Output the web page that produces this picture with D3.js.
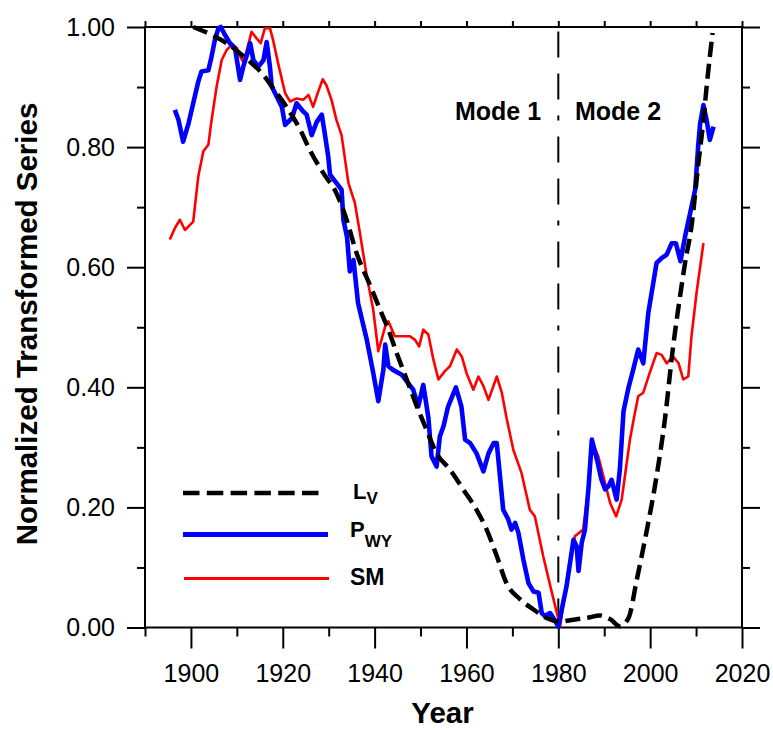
<!DOCTYPE html>
<html>
<head>
<meta charset="utf-8">
<script src="https://cdn.jsdelivr.net/npm/d3@7"></script>
<style>
  html, body { margin: 0; padding: 0; background: #fff; }
  svg { display: block; }
  text { font-family: "Liberation Sans", Arial, sans-serif; fill: #000; }
</style>
</head>
<body>
<svg id="chart" width="773" height="730"></svg>
<script>
// ---------------- DATA ----------------
const lvYears  = [1900.5,1904.5,1907.8,1910.7,1912.9,1915.8,1917.9,1920.8,1923.8,1925.9,1928.8,1931.7,1933.9,1936.1,1939.0,1941.2,1943.0,1944.8,1947.0,1949.2,1951.0,1953.5,1956.4,1959.3,1962.2,1964.4,1966.6,1968.7,1971.7,1974.6,1977.4,1980.4,1983.3,1986.2,1989.1,1991.3,1993.4,1995.3,1997.1,1999.3,2001.4,2003.2,2005.0,2006.5,2007.6,2009.0,2010.5,2011.6,2012.3,2013.0,2013.6];
const lvValues = [1.000,0.987,0.973,0.956,0.942,0.920,0.898,0.867,0.829,0.795,0.757,0.723,0.679,0.623,0.570,0.529,0.496,0.457,0.413,0.368,0.335,0.290,0.263,0.230,0.196,0.163,0.119,0.074,0.047,0.030,0.016,0.010,0.013,0.016,0.020,0.014,0.002,0.016,0.080,0.163,0.252,0.346,0.468,0.551,0.607,0.668,0.773,0.845,0.901,0.951,0.990];

const pwyYears  = [1896.5,1897.3,1898.3,1899.5,1900.5,1901.6,1902.3,1903.8,1904.5,1905.2,1906.0,1906.5,1907.4,1908.5,1909.6,1910.7,1911.4,1912.1,1912.9,1913.6,1914.7,1915.8,1916.5,1917.2,1917.6,1918.7,1919.8,1920.5,1922.0,1923.0,1924.5,1925.2,1926.3,1927.4,1928.5,1929.2,1929.9,1930.3,1931.7,1932.8,1933.2,1934.0,1934.6,1935.4,1936.4,1938.3,1939.7,1940.8,1941.9,1942.3,1943.0,1944.0,1945.9,1947.0,1948.4,1949.5,1950.6,1951.7,1952.4,1953.5,1954.2,1955.0,1956.0,1957.7,1958.9,1959.7,1960.8,1962.2,1963.7,1964.8,1965.9,1966.6,1967.3,1968.0,1969.1,1969.8,1970.6,1971.3,1972.4,1973.5,1974.6,1975.7,1976.4,1977.1,1978.2,1978.9,1980.0,1981.8,1983.3,1984.0,1984.4,1985.1,1985.8,1986.6,1987.3,1988.4,1989.4,1990.2,1990.9,1991.6,1992.7,1993.4,1994.2,1995.3,1996.3,1997.4,1998.5,1999.6,2001.4,2002.5,2003.6,2004.7,2005.6,2006.6,2007.6,2008.7,2009.8,2010.5,2010.9,2011.6,2012.3,2013.0,2013.8];
const pwyValues = [0.862,0.845,0.809,0.840,0.873,0.909,0.926,0.928,0.951,0.978,0.998,1.000,0.987,0.973,0.965,0.912,0.934,0.951,0.973,0.945,0.934,0.945,0.975,0.934,0.901,0.884,0.867,0.837,0.848,0.873,0.859,0.854,0.820,0.842,0.854,0.820,0.784,0.754,0.740,0.729,0.679,0.650,0.593,0.612,0.540,0.479,0.424,0.377,0.429,0.471,0.435,0.429,0.421,0.410,0.396,0.368,0.404,0.350,0.285,0.268,0.318,0.335,0.368,0.400,0.368,0.313,0.307,0.290,0.260,0.290,0.307,0.307,0.252,0.196,0.180,0.163,0.174,0.158,0.113,0.074,0.060,0.058,0.024,0.019,0.024,0.016,0.002,0.069,0.146,0.135,0.094,0.141,0.163,0.235,0.313,0.280,0.246,0.230,0.235,0.246,0.213,0.263,0.360,0.400,0.429,0.463,0.440,0.524,0.607,0.615,0.621,0.640,0.640,0.610,0.651,0.690,0.729,0.806,0.840,0.870,0.845,0.812,0.834];

const smYears  = [1895.4,1896.5,1897.6,1898.7,1900.5,1901.6,1902.7,1903.8,1904.5,1905.6,1906.7,1907.8,1908.9,1910.0,1910.7,1911.4,1912.1,1913.2,1914.3,1915.2,1916.1,1917.2,1917.9,1919.0,1920.5,1921.6,1923.0,1924.5,1925.6,1926.6,1927.7,1928.7,1929.5,1930.6,1931.7,1932.8,1934.3,1935.7,1936.8,1938.3,1939.7,1940.8,1942.3,1943.0,1944.4,1945.5,1947.7,1948.8,1949.7,1950.6,1951.7,1952.8,1953.9,1955.3,1956.4,1957.9,1959.0,1960.0,1961.5,1962.6,1963.7,1964.8,1966.6,1967.7,1968.7,1970.2,1972.0,1973.8,1974.9,1976.7,1978.6,1980.4,1982.2,1983.6,1985.4,1986.5,1987.5,1988.7,1989.8,1991.3,1992.6,1993.8,1994.9,1995.6,1996.5,1997.4,1998.5,1999.9,2001.4,2002.5,2003.6,2005.0,2006.2,2007.2,2008.3,2009.0,2010.1,2011.6];
const smValues = [0.646,0.665,0.679,0.662,0.676,0.751,0.793,0.804,0.845,0.901,0.945,0.962,0.970,0.965,0.951,0.942,0.959,0.992,0.981,0.973,0.998,0.998,0.978,0.939,0.890,0.876,0.881,0.879,0.887,0.867,0.892,0.913,0.903,0.879,0.845,0.820,0.740,0.707,0.657,0.585,0.529,0.460,0.501,0.510,0.485,0.485,0.485,0.479,0.468,0.496,0.488,0.446,0.413,0.427,0.435,0.463,0.451,0.424,0.396,0.418,0.402,0.379,0.418,0.391,0.350,0.296,0.257,0.196,0.185,0.119,0.058,0.002,0.096,0.152,0.163,0.230,0.307,0.285,0.252,0.207,0.185,0.213,0.274,0.313,0.350,0.385,0.391,0.424,0.457,0.454,0.440,0.451,0.440,0.413,0.418,0.485,0.557,0.640];

const xMajorTicks = [1900,1920,1940,1960,1980,2000,2020];
const xMinorTicks = [1890,1910,1930,1950,1970,1990,2010];
const yMajorTicks = [0,0.2,0.4,0.6,0.8,1.0];
const yMinorTicks = [0.1,0.3,0.5,0.7,0.9];
const modeYear = 1980;
const modeLabels = ["Mode 1","Mode 2"];

// ---------------- LAYOUT ----------------
const svg = d3.select("#chart");
const L = 145, R = 742, T = 27, B = 627.5;
const x = d3.scaleLinear().domain([1890, 2020]).range([L, R]);
const y = d3.scaleLinear().domain([0, 1]).range([B, T]);

svg.append("rect").attr("width",773).attr("height",730).attr("fill","#fff");

function styleAxis(g) {
  g.select(".domain").remove();
  g.selectAll(".tick line").attr("stroke","#000").attr("stroke-width",2);
  g.selectAll(".tick text").style("font-size","25px").style("font-family",'"Liberation Sans", Arial, sans-serif').attr("fill","#000");
}

// left
svg.append("g").attr("transform",`translate(${L},0)`)
  .call(d3.axisLeft(y).tickValues(yMajorTicks).tickSize(18).tickPadding(12).tickFormat(d3.format(".2f")))
  .call(styleAxis);
svg.append("g").attr("transform",`translate(${L},0)`)
  .call(d3.axisLeft(y).tickValues(yMinorTicks).tickSize(8).tickFormat(""))
  .call(styleAxis);
// right
svg.append("g").attr("transform",`translate(${R},0)`)
  .call(d3.axisRight(y).tickValues(yMajorTicks).tickSize(18).tickFormat(""))
  .call(styleAxis);
svg.append("g").attr("transform",`translate(${R},0)`)
  .call(d3.axisRight(y).tickValues(yMinorTicks).tickSize(8).tickFormat(""))
  .call(styleAxis);
// bottom
svg.append("g").attr("transform",`translate(0,${B})`)
  .call(d3.axisBottom(x).tickValues(xMajorTicks).tickSize(21).tickPadding(16).tickFormat(d3.format("d")))
  .call(styleAxis);
svg.append("g").attr("transform",`translate(0,${B})`)
  .call(d3.axisBottom(x).tickValues(xMinorTicks).tickSize(9).tickFormat(""))
  .call(styleAxis);
// top
svg.append("g").attr("transform",`translate(0,${T})`)
  .call(d3.axisTop(x).tickValues(xMajorTicks.concat(xMinorTicks)).tickSize(6).tickFormat(""))
  .call(styleAxis);

// frame
svg.append("rect").attr("x",L).attr("y",T).attr("width",R-L).attr("height",B-T)
  .attr("fill","none").attr("stroke","#000").attr("stroke-width",2);

// mode divider
svg.append("line").attr("x1",x(modeYear)).attr("x2",x(modeYear)).attr("y1",31.5).attr("y2",B)
  .attr("stroke","#000").attr("stroke-width",2).attr("stroke-dasharray","26,16,26,16,5,16");

svg.append("text").attr("x",455).attr("y",119.5).style("font-size","25px").style("font-weight","bold").text(modeLabels[0]);
svg.append("text").attr("x",575).attr("y",119.5).style("font-size","25px").style("font-weight","bold").text(modeLabels[1]);

// series
const zip = (xs, vs) => xs.map((d,i)=>[d, vs[i]]);
const lineLin = d3.line().x(d=>x(d[0])).y(d=>y(d[1])).curve(d3.curveLinear);
const lineSmooth = d3.line().x(d=>x(d[0])).y(d=>y(d[1])).curve(d3.curveMonotoneX);

svg.append("path").datum(zip(smYears, smValues)).attr("d", lineLin)
  .attr("fill","none").attr("stroke","#ff0000").attr("stroke-width",2.6).attr("stroke-linejoin","round");
svg.append("path").datum(zip(pwyYears, pwyValues)).attr("d", lineLin)
  .attr("fill","none").attr("stroke","#0000ff").attr("stroke-width",4.6).attr("stroke-linejoin","round");
svg.append("path").datum(zip(lvYears, lvValues)).attr("d", lineSmooth)
  .attr("fill","none").attr("stroke","#000").attr("stroke-width",4.5).attr("stroke-dasharray","15,7");

// legend
const leg = svg.append("g");
leg.append("line").attr("x1",183).attr("x2",321).attr("y1",493).attr("y2",493)
  .attr("stroke","#000").attr("stroke-width",4.5).attr("stroke-dasharray","16.5,7.3");
leg.append("line").attr("x1",183).attr("x2",328).attr("y1",534.5).attr("y2",534.5)
  .attr("stroke","#0000ff").attr("stroke-width",4.8);
leg.append("line").attr("x1",184).attr("x2",329).attr("y1",578.5).attr("y2",578.5)
  .attr("stroke","#ff0000").attr("stroke-width",2.8);

const t1 = leg.append("text").attr("x",353).attr("y",499).style("font-size","22px").style("font-weight","bold");
t1.append("tspan").text("L");
t1.append("tspan").attr("dy",4.5).style("font-size","17px").text("V");
const t2 = leg.append("text").attr("x",350).attr("y",537).style("font-size","22px").style("font-weight","bold");
t2.append("tspan").text("P");
t2.append("tspan").attr("dy",10).style("font-size","17px").text("WY");
leg.append("text").attr("x",350).attr("y",585).style("font-size","23px").style("font-weight","bold").text("SM");

// axis titles
svg.append("text").attr("x",(L+R)/2 - 1).attr("y",723).attr("text-anchor","middle")
  .style("font-size","29.5px").style("font-weight","bold").text("Year");
svg.append("text").attr("transform","translate(37,324) rotate(-90)").attr("text-anchor","middle")
  .style("font-size","29.5px").style("font-weight","bold").text("Normalized Transformed Series");
</script>
</body>
</html>
